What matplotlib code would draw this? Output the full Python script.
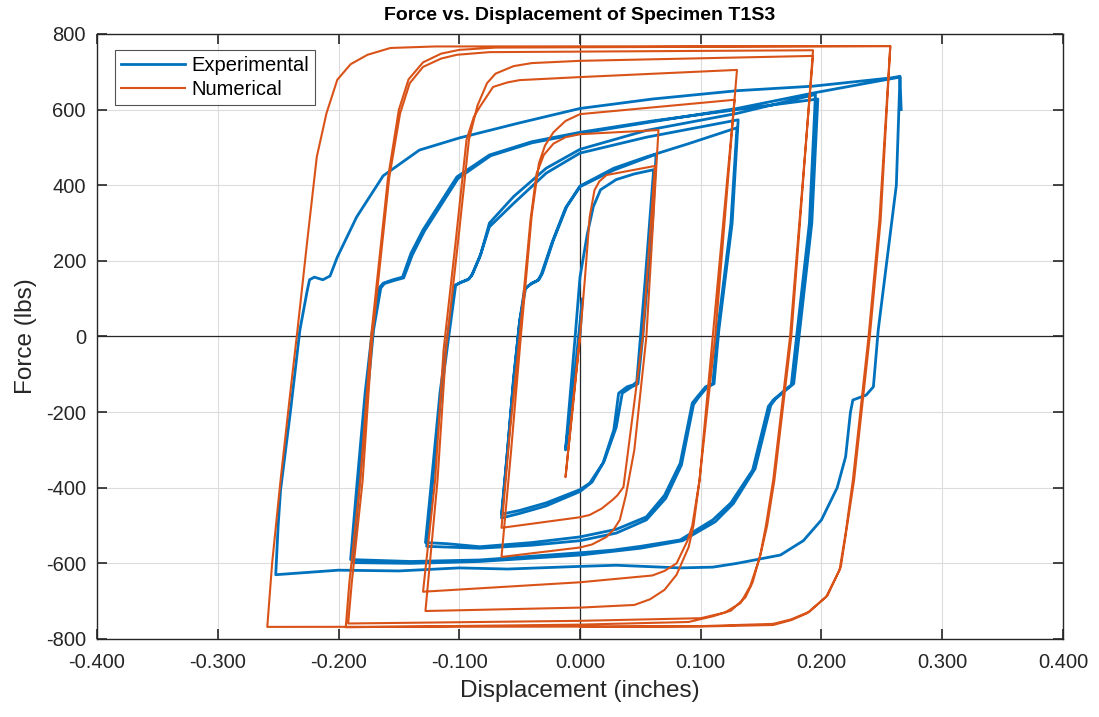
import matplotlib.pyplot as plt
from matplotlib.ticker import FixedLocator, FuncFormatter
import numpy as np

plt.rcParams['font.family'] = ['Liberation Sans', 'DejaVu Sans']

# ---- experimental (blue) branches: (displacement in, force lbs) ----
exp_init = [(0, 0), (0.002, 100), (-0.005, -120), (-0.012, -300), (-0.008, -150), (-0.004, 0),
            (0.0, 157), (0.006, 270), (0.011, 343), (0.017, 388), (0.03, 415), (0.045, 430), (0.061, 441)]
exp_u1 = [(0.061, 441), (0.054, 150), (0.047, -120), (0.044, -128), (0.039, -133), (0.032, -150),
          (0.028, -247), (0.019, -335), (0.008, -388), (0.0, -405), (-0.028, -440), (-0.05, -460), (-0.065, -470)]
exp_l1 = [(-0.065, -470), (-0.060, -300), (-0.055, -115), (-0.050, 40), (-0.045, 128), (-0.040, 141),
          (-0.034, 150), (-0.031, 168), (-0.022, 255), (-0.011, 343), (0.0, 396), (0.028, 440), (0.063, 482)]
exp_u2 = [(0.063, 482), (0.060, 300), (0.052, 0), (0.048, -125), (0.043, -133), (0.035, -150), (0.030, -240),
          (0.020, -330), (0.010, -385), (0.0, -410), (-0.028, -448), (-0.05, -468), (-0.065, -480)]
exp_l2 = [(-0.065, -480), (-0.060, -300), (-0.055, -110), (-0.050, 40), (-0.046, 125), (-0.041, 138),
          (-0.035, 148), (-0.032, 165), (-0.023, 250), (-0.012, 340), (0.0, 398), (0.028, 445), (0.055, 475),
          (0.09, 510), (0.13, 552)]
exp_u3 = [(0.13, 552), (0.125, 300), (0.114, 17), (0.110, -125), (0.104, -133), (0.097, -160), (0.093, -176),
          (0.083, -335), (0.070, -420), (0.055, -477), (0.03, -510), (0.0, -530), (-0.04, -545), (-0.083, -556),
          (-0.11, -548), (-0.128, -545)]
exp_l3 = [(-0.128, -545), (-0.122, -350), (-0.116, -150), (-0.109, 17), (-0.104, 135), (-0.100, 141),
          (-0.093, 150), (-0.090, 160), (-0.083, 210), (-0.075, 290), (-0.055, 352), (-0.028, 432), (0.0, 485),
          (0.055, 527), (0.131, 573)]
exp_u4 = [(0.131, 573), (0.126, 300), (0.115, 17), (0.111, -125), (0.105, -135), (0.098, -162), (0.094, -180),
          (0.084, -340), (0.071, -428), (0.055, -485), (0.03, -520), (0.0, -540), (-0.04, -552), (-0.083, -560),
          (-0.127, -555)]
exp_l4 = [(-0.127, -555), (-0.121, -350), (-0.115, -150), (-0.108, 17), (-0.103, 135), (-0.099, 143),
          (-0.092, 152), (-0.089, 165), (-0.082, 220), (-0.075, 300), (-0.055, 370), (-0.028, 445), (0.0, 495),
          (0.055, 545), (0.13, 590), (0.195, 640)]
exp_u5 = [(0.195, 640), (0.190, 300), (0.180, 17), (0.175, -128), (0.170, -141), (0.160, -168), (0.156, -185),
          (0.143, -353), (0.125, -440), (0.110, -485), (0.083, -538), (0.05, -555), (0.027, -565), (0.0, -572),
          (-0.083, -591), (-0.14, -595), (-0.19, -590)]
exp_l5 = [(-0.19, -590), (-0.185, -400), (-0.178, -150), (-0.172, 17), (-0.166, 130), (-0.163, 141),
          (-0.155, 150), (-0.147, 157), (-0.140, 220), (-0.13, 282), (-0.102, 422), (-0.075, 480), (-0.04, 515),
          (0.0, 540), (0.06, 570), (0.13, 600), (0.197, 628)]
exp_u6 = [(0.197, 628), (0.192, 300), (0.182, 17), (0.177, -125), (0.172, -138), (0.162, -165), (0.158, -182),
          (0.145, -350), (0.127, -442), (0.112, -490), (0.085, -540), (0.05, -560), (0.0, -578), (-0.083, -595),
          (-0.14, -600), (-0.188, -598)]
exp_l6 = [(-0.188, -598), (-0.183, -400), (-0.176, -150), (-0.171, 17), (-0.165, 128), (-0.162, 140),
          (-0.154, 148), (-0.146, 155), (-0.139, 215), (-0.129, 278), (-0.101, 418), (-0.074, 478), (-0.04, 512),
          (0.0, 537), (0.06, 568), (0.13, 603), (0.195, 645), (0.265, 686)]
exp_u7 = [(0.265, 686), (0.262, 400), (0.247, 17), (0.243, -133), (0.237, -155), (0.226, -168), (0.224, -200),
          (0.220, -318), (0.213, -400), (0.200, -485), (0.185, -540), (0.166, -578), (0.13, -600),
          (0.110, -610), (0.083, -612), (0.03, -605), (0.0, -608), (-0.06, -615), (-0.1, -612), (-0.15, -620),
          (-0.2, -618), (-0.252, -630)]
exp_l7 = [(-0.252, -630), (-0.250, -500), (-0.248, -406), (-0.240, -203), (-0.232, 17), (-0.226, 120),
          (-0.224, 150), (-0.220, 157), (-0.213, 150), (-0.207, 160), (-0.201, 210), (-0.185, 316),
          (-0.163, 425), (-0.133, 493), (-0.10, 525), (-0.05, 565), (0.0, 603), (0.06, 628), (0.13, 650),
          (0.193, 662), (0.258, 684), (0.265, 688), (0.266, 600)]

# ---- numerical (orange) branches ----
num_init = [(0, 0), (-0.006, -180), (-0.012, -372), (-0.006, -190), (0.0, 0), (0.004, 150), (0.008, 316),
            (0.012, 387), (0.016, 410), (0.022, 427), (0.062, 451)]
num_u1 = [(0.062, 451), (0.052, 0), (0.040, -300), (0.036, -398), (0.031, -420), (0.027, -432),
          (0.018, -455), (0.008, -472), (0.0, -478), (-0.065, -506)]
num_l1 = [(-0.065, -506), (-0.058, -250), (-0.050, 0), (-0.041, 308), (-0.036, 430), (-0.030, 480),
          (-0.022, 510), (-0.012, 527), (0.0, 535), (0.065, 546)]
num_u2 = [(0.065, 546), (0.055, 0), (0.045, -300), (0.038, -420), (0.033, -485), (0.028, -510),
          (0.022, -530), (0.010, -550), (0.0, -558), (-0.065, -583)]
num_l2 = [(-0.065, -583), (-0.057, -300), (-0.049, 0), (-0.040, 320), (-0.034, 458), (-0.029, 505),
          (-0.022, 540), (-0.012, 570), (0.0, 588), (0.128, 626)]
num_u3 = [(0.128, 626), (0.110, 0), (0.099, -380), (0.093, -500), (0.089, -540), (0.080, -600),
          (0.070, -620), (0.060, -632), (0.0, -650), (-0.13, -675)]
num_l3 = [(-0.13, -675), (-0.12, -380), (-0.113, -36), (-0.103, 250), (-0.094, 520), (-0.088, 580),
          (-0.083, 607), (-0.072, 660), (-0.06, 672), (-0.05, 678), (0.0, 686), (0.13, 705)]
num_u4 = [(0.13, 705), (0.112, 0), (0.099, -380), (0.094, -500), (0.090, -557), (0.080, -630),
          (0.070, -670), (0.058, -695), (0.045, -710), (0.0, -717), (-0.128, -726)]
num_l4 = [(-0.128, -726), (-0.118, -380), (-0.111, -36), (-0.100, 280), (-0.092, 520), (-0.085, 610),
          (-0.077, 670), (-0.070, 695), (-0.055, 715), (-0.040, 723), (0.0, 729), (0.193, 742)]
num_u5 = [(0.193, 742), (0.174, 0), (0.160, -380), (0.154, -500), (0.149, -583), (0.141, -660),
          (0.133, -705), (0.120, -730), (0.100, -745), (0.0, -752), (-0.192, -759)]
num_l5 = [(-0.192, -759), (-0.189, -650), (-0.180, -380), (-0.172, 0), (-0.158, 420), (-0.149, 590),
          (-0.141, 670), (-0.130, 713), (-0.115, 735), (-0.102, 745), (-0.075, 752), (0.193, 757)]
num_u6 = [(0.193, 757), (0.175, 0), (0.161, -380), (0.155, -500), (0.150, -570), (0.143, -650),
          (0.137, -690), (0.125, -725), (0.110, -740), (0.090, -755), (0.0, -762), (-0.194, -769)]
num_l6 = [(-0.194, -769), (-0.191, -650), (-0.182, -380), (-0.173, 0), (-0.159, 420), (-0.150, 600),
          (-0.142, 680), (-0.130, 725), (-0.115, 748), (-0.100, 758), (-0.070, 764), (0.257, 768)]
num_u7 = [(0.257, 768), (0.248, 308), (0.239, 0), (0.226, -380), (0.220, -520), (0.215, -617),
          (0.204, -688), (0.188, -732), (0.175, -750), (0.160, -763), (0.100, -767), (-0.259, -768)]
num_l7 = [(-0.259, -768), (-0.255, -600), (-0.248, -380), (-0.240, -150), (-0.234, 17), (-0.226, 250),
          (-0.218, 475), (-0.210, 590), (-0.201, 679), (-0.190, 720), (-0.176, 745), (-0.157, 763),
          (-0.120, 767), (0.257, 768)]
num_u8 = [(0.257, 768), (0.249, 308), (0.240, 0), (0.227, -380), (0.216, -610), (0.205, -685),
          (0.190, -728), (0.175, -748), (0.160, -760), (0.100, -766), (0.0, -768)]

exp_branches = [exp_init, exp_u1, exp_l1, exp_u2, exp_l2, exp_u3, exp_l3, exp_u4,
                exp_l4, exp_u5, exp_l5, exp_u6, exp_l6, exp_u7, exp_l7]
num_branches = [num_init, num_u1, num_l1, num_u2, num_l2, num_u3, num_l3, num_u4,
                num_l4, num_u5, num_l5, num_u6, num_l6, num_u7, num_l7, num_u8]

x_ticks = [-0.4, -0.3, -0.2, -0.1, 0.0, 0.1, 0.2, 0.3, 0.4]
y_ticks = [-800, -600, -400, -200, 0, 200, 400, 600, 800]


def join(branches):
    pts = []
    for b in branches:
        pts.extend(b if not pts else b[1:])
    arr = np.array(pts, dtype=float)
    return arr[:, 0], arr[:, 1]


fig = plt.figure(figsize=(10.99, 7.17), dpi=100)
ax = fig.add_axes([0.0883, 0.1088, 0.8789, 0.8438])

ex, ey = join(exp_branches)
nx, ny = join(num_branches)
ax.plot(ex, ey, color='#0072BD', lw=2.0, label='Experimental', zorder=3)
ax.plot(nx, ny, color='#D95319', lw=1.5, label='Numerical', zorder=4)

ax.axhline(0, color='#262626', lw=0.9, zorder=2)
ax.axvline(0, color='#262626', lw=0.9, zorder=2)

ax.set_xlim(-0.4, 0.4)
ax.set_ylim(-800, 800)
ax.xaxis.set_major_locator(FixedLocator(x_ticks))
ax.yaxis.set_major_locator(FixedLocator(y_ticks))
ax.xaxis.set_major_formatter(FuncFormatter(lambda v, p: '%.3f' % (0.0 if abs(v) < 1e-9 else v)))
ax.yaxis.set_major_formatter(FuncFormatter(lambda v, p: '%d' % v))
ax.grid(True, color='#dcdcdc', lw=0.8, zorder=0)
ax.set_axisbelow(True)
ax.tick_params(direction='in', length=7, width=1.2, top=True, right=True,
               labelsize=14.5, colors='#262626')
ax.tick_params(axis='x', pad=10)
ax.tick_params(axis='y', pad=8)
for s in ax.spines.values():
    s.set_color('#262626')
    s.set_linewidth(1.0)

ax.set_title('Force vs. Displacement of Specimen T1S3', fontsize=14, fontweight='bold', pad=10)
ax.set_xlabel('Displacement (inches)', fontsize=17.5, color='#262626', labelpad=6)
ax.set_ylabel('Force (lbs)', fontsize=17.5, color='#262626', labelpad=6)

leg = ax.legend(loc='upper left', bbox_to_anchor=(0.0186, 0.9735), borderaxespad=0,
                fontsize=14.5, frameon=True, fancybox=False, edgecolor='#262626',
                handlelength=3.2, borderpad=0.3, labelspacing=0.25, handletextpad=0.3)
leg.get_frame().set_linewidth(0.8)

fig.savefig('out.png', dpi=100)
